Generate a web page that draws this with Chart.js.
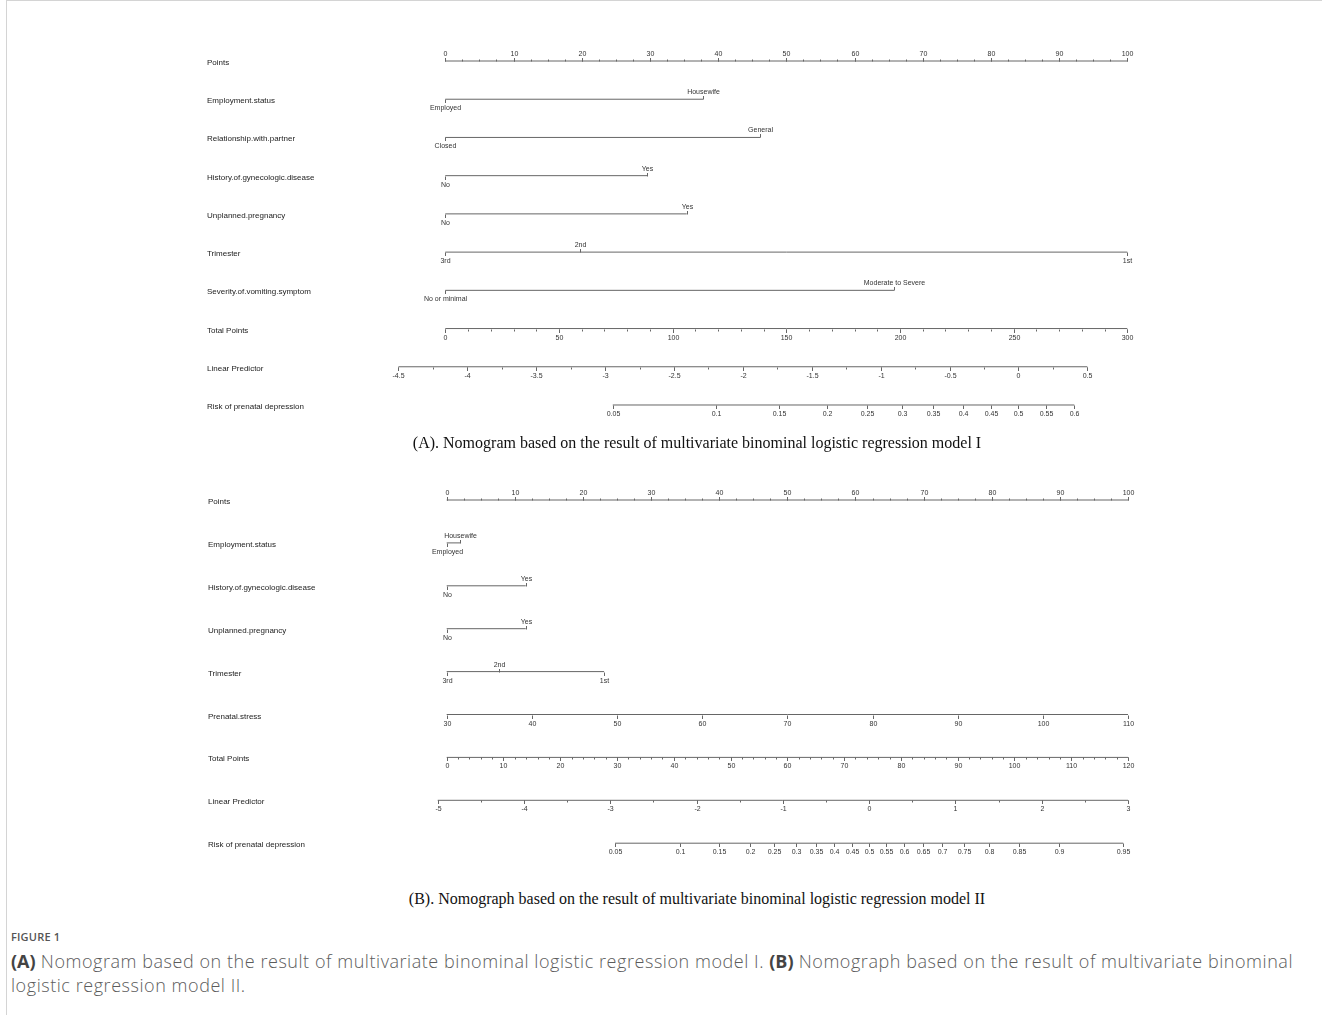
<!DOCTYPE html>
<html>
<head>
<meta charset="utf-8">
<script src="https://cdn.jsdelivr.net/npm/chart.js@4.4.1/dist/chart.umd.min.js"></script>
<style>
  body { margin: 0; background: #fff; }
  #page { position: relative; width: 1322px; height: 1015px; overflow: hidden; }
  #frame { position: absolute; left: 6px; top: 0; width: 1330px; height: 1020px;
    border-left: 1px solid #d4d4d4; border-top: 1px solid #d4d4d4; }
  canvas { position: absolute; left: 0; }
  .panel-title { position: absolute; left: 197px; width: 1000px; text-align: center;
    font-family: "Liberation Serif", "DejaVu Serif", serif; font-size: 16px; line-height: 18px; color: #111; }
  #figLabel { position: absolute; left: 11px; top: 929px; font-family: "Open Sans", sans-serif;
    font-size: 11px; font-weight: 600; color: #555; letter-spacing: 0.2px; }
  #figCaption { position: absolute; left: 11px; top: 949px; font-family: "Open Sans", sans-serif;
    font-size: 18px; line-height: 24px; color: #5c5c5c; white-space: nowrap; font-weight: 300;
    letter-spacing: 0.55px; }
  #figCaption b { font-weight: 700; color: #444; letter-spacing: 0; }
</style>
</head>
<body>
<div id="page">
  <div id="frame"></div>
  <canvas id="nomoA" width="1322" height="440" style="top:0px"></canvas>
  <canvas id="nomoB" width="1322" height="420" style="top:460px"></canvas>
  <div class="panel-title" style="top:434px">(A). Nomogram based on the result of multivariate binominal logistic regression model I</div>
  <div class="panel-title" style="top:890px">(B). Nomograph based on the result of multivariate binominal logistic regression model II</div>
  <div id="figLabel">FIGURE 1</div>
  <div id="figCaption"><b>(A)</b> Nomogram based on the result of multivariate binominal logistic regression model I. <b>(B)</b> Nomograph based on the result of multivariate binominal<br>logistic regression model II.</div>
</div>
<script>
// points scale shared by both nomograms
const pointTicks = [0, 10, 20, 30, 40, 50, 60, 70, 80, 90, 100];
const pointMinorStep = 2.5;

// ---- model I ----
const employLevelsA = ["Employed", "Housewife"];
const employScoreA = [0, 37.8];
const partnerLevelsA = ["Closed", "General"];
const partnerScoreA = [0, 46.2];
const gynLevelsA = ["No", "Yes"];
const gynScoreA = [0, 29.6];
const unplannedLevelsA = ["No", "Yes"];
const unplannedScoreA = [0, 35.4];
const trimesterLevelsA = ["3rd", "2nd", "1st"];
const trimesterScoreA = [0, 19.7, 100];
const vomitLevelsA = ["No or minimal", "Moderate to Severe"];
const vomitScoreA = [0, 65.8];

const totalTicksA = [0, 50, 100, 150, 200, 250, 300];
const totalMinorStepA = 10;
const lpTicksA = [-4.5, -4, -3.5, -3, -2.5, -2, -1.5, -1, -0.5, 0, 0.5];
const lpMinorStepA = 0.25;
const lpInterceptA = -4.16;   // linear predictor at 0 total points
const lpSlopeA = 0.0165;      // per total point
const riskTicksA = [0.05, 0.1, 0.15, 0.2, 0.25, 0.3, 0.35, 0.4, 0.45, 0.5, 0.55, 0.6];

// ---- model II ----
const employLevelsB = ["Employed", "Housewife"];
const employScoreB = [0, 2.0];
const gynLevelsB = ["No", "Yes"];
const gynScoreB = [0, 11.6];
const unplannedLevelsB = ["No", "Yes"];
const unplannedScoreB = [0, 11.6];
const trimesterLevelsB = ["3rd", "2nd", "1st"];
const trimesterScoreB = [0, 7.7, 23.1];
const stressTicksB = [30, 40, 50, 60, 70, 80, 90, 100, 110];

const totalTicksB = [0, 10, 20, 30, 40, 50, 60, 70, 80, 90, 100, 110, 120];
const totalMinorStepB = 2;
const lpTicksB = [-5, -4, -3, -2, -1, 0, 1, 2, 3];
const lpMinorStepB = 0.5;
const lpInterceptB = -4.896;
const lpSlopeB = 0.0658;
const riskTicksB = [0.05, 0.1, 0.15, 0.2, 0.25, 0.3, 0.35, 0.4, 0.45, 0.5, 0.55, 0.6,
  0.65, 0.7, 0.75, 0.8, 0.85, 0.9, 0.95];

function steps(from, to, step) {
  const out = [];
  for (let v = from; v <= to + 1e-9; v += step) out.push(v);
  return out;
}

// categorical predictor: labels alternate below / above the line
function catRow(name, levels, scores) {
  return {
    name,
    from: Math.min(...scores),
    to: Math.max(...scores),
    ticks: scores.map((s, i) => ({ pos: s, text: levels[i], above: i % 2 === 1 }))
  };
}

// continuous axis: values mapped to points by `toPoints`
function axisRow(name, values, toPoints, above, minorStep) {
  const pos = values.map(toPoints);
  const minor = minorStep
    ? steps(values[0], values[values.length - 1], minorStep).map(toPoints)
    : [];
  return {
    name,
    from: Math.min(...pos),
    to: Math.max(...pos),
    ticks: values.map((v, i) => ({ pos: pos[i], text: String(v), above })),
    minor
  };
}

function scoreRows(totalTicks, lpIntercept, lpSlope) {
  const totalMax = totalTicks[totalTicks.length - 1];
  const fromTotal = (t) => (t * 100) / totalMax;
  const fromLp = (lp) => fromTotal((lp - lpIntercept) / lpSlope);
  const fromRisk = (p) => fromLp(Math.log(p / (1 - p)));
  return { fromTotal, fromLp, fromRisk };
}

const mapA = scoreRows(totalTicksA, lpInterceptA, lpSlopeA);
const rowsA = [
  axisRow("Points", pointTicks, (v) => v, true, pointMinorStep),
  catRow("Employment.status", employLevelsA, employScoreA),
  catRow("Relationship.with.partner", partnerLevelsA, partnerScoreA),
  catRow("History.of.gynecologic.disease", gynLevelsA, gynScoreA),
  catRow("Unplanned.pregnancy", unplannedLevelsA, unplannedScoreA),
  catRow("Trimester", trimesterLevelsA, trimesterScoreA),
  catRow("Severity.of.vomiting.symptom", vomitLevelsA, vomitScoreA),
  axisRow("Total Points", totalTicksA, mapA.fromTotal, false, totalMinorStepA),
  axisRow("Linear Predictor", lpTicksA, mapA.fromLp, false, lpMinorStepA),
  axisRow("Risk of prenatal depression", riskTicksA, mapA.fromRisk, false, 0)
];

const mapB = scoreRows(totalTicksB, lpInterceptB, lpSlopeB);
const stressLo = stressTicksB[0];
const stressHi = stressTicksB[stressTicksB.length - 1];
const rowsB = [
  axisRow("Points", pointTicks, (v) => v, true, pointMinorStep),
  catRow("Employment.status", employLevelsB, employScoreB),
  catRow("History.of.gynecologic.disease", gynLevelsB, gynScoreB),
  catRow("Unplanned.pregnancy", unplannedLevelsB, unplannedScoreB),
  catRow("Trimester", trimesterLevelsB, trimesterScoreB),
  axisRow("Prenatal.stress", stressTicksB, (s) => ((s - stressLo) * 100) / (stressHi - stressLo), false, 0),
  axisRow("Total Points", totalTicksB, mapB.fromTotal, false, totalMinorStepB),
  axisRow("Linear Predictor", lpTicksB, mapB.fromLp, false, lpMinorStepB),
  axisRow("Risk of prenatal depression", riskTicksB, mapB.fromRisk, false, 0)
];

// ticks, tick labels and row names on top of the line datasets
function nomogramTicks(rows, nameX) {
  return {
    id: "nomogramTicks",
    afterDatasetsDraw(chart) {
      const { ctx, scales: { x, y } } = chart;
      ctx.save();
      ctx.strokeStyle = "#666";
      ctx.lineWidth = 1;
      rows.forEach((row, i) => {
        const yy = Math.round(y.getPixelForValue(i)) + 0.5;

        ctx.fillStyle = "#222";
        ctx.font = '8px "Liberation Sans", Arial, sans-serif';
        ctx.textAlign = "left";
        ctx.textBaseline = "middle";
        ctx.fillText(row.name, nameX, yy + 1);

        (row.minor || []).forEach((p) => {
          const px = Math.round(x.getPixelForValue(p)) + 0.5;
          const dir = row.ticks[0].above ? -1 : 1;
          ctx.beginPath();
          ctx.moveTo(px, yy);
          ctx.lineTo(px, yy + dir * 2);
          ctx.stroke();
        });

        ctx.font = '7px "Liberation Sans", Arial, sans-serif';
        ctx.fillStyle = "#333";
        ctx.textAlign = "center";
        row.ticks.forEach((t) => {
          const px = Math.round(x.getPixelForValue(t.pos)) + 0.5;
          const dir = t.above ? -1 : 1;
          ctx.beginPath();
          ctx.moveTo(px, yy);
          ctx.lineTo(px, yy + dir * 3.5);
          ctx.stroke();
          ctx.fillText(t.text, px, yy + (t.above ? -7.5 : 9));
        });
      });
      ctx.restore();
    }
  };
}

function drawNomogram(canvasId, rows, padding, nameX) {
  new Chart(document.getElementById(canvasId), {
    type: "scatter",
    data: {
      datasets: rows.map((row, i) => ({
        data: [{ x: row.from, y: i }, { x: row.to, y: i }],
        showLine: true,
        borderColor: "#666",
        borderWidth: 1,
        pointRadius: 0,
        clip: false
      }))
    },
    options: {
      responsive: false,
      animation: false,
      events: [],
      layout: { padding },
      plugins: { legend: { display: false }, tooltip: { enabled: false } },
      scales: {
        x: { type: "linear", min: 0, max: 100, display: false },
        y: { type: "linear", min: -0.5, max: rows.length - 0.5, reverse: true, display: false }
      }
    },
    plugins: [nomogramTicks(rows, nameX)]
  });
}

drawNomogram("nomoA", rowsA, { left: 445.3, right: 194.7, top: 41.9, bottom: 15.9 }, 207);
drawNomogram("nomoB", rowsB, { left: 446.7, right: 194, top: 18.55, bottom: 15.35 }, 208);
</script>
</body>
</html>
